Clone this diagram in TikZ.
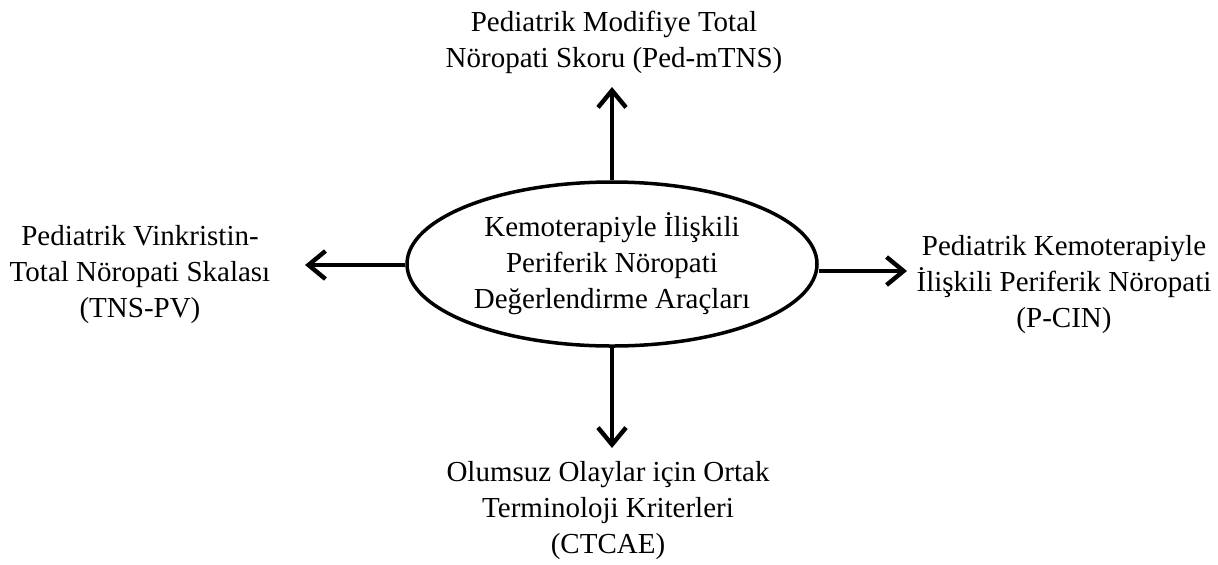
\documentclass[tikz,border=0pt]{standalone}
\usepackage{fontspec}
\setmainfont{Liberation Serif}
\usetikzlibrary{arrows.meta,shapes.geometric}
\begin{document}
\begin{tikzpicture}[x=0.5pt, y=-0.5pt,
        tool text/.style = {align=center, font=\fontsize{14.5}{18}\selectfont, inner sep=0pt},
        out arrow/.style = {line width=2pt, -{Straight Barb[length=8.5pt,width=14pt,line width=2.2pt]}}]
        \useasboundingbox (0,0) rectangle (1218,564);
        \node[ellipse, draw, line width=1.75pt, minimum width=205pt, minimum height=82pt, tool text] (tools) at (612,264) {Kemoterapiyle İlişkili\\Periferik Nöropati\\Değerlendirme Araçları};
        \node[tool text] (mtns) at (614,42) {Pediatrik Modifiye Total\\Nöropati Skoru (Ped-mTNS)};
        \node[tool text] (tnspv) at (140,275) {Pediatrik Vinkristin-\\Total Nöropati Skalası\\(TNS-PV)};
        \node[tool text] (pcin) at (1064,285) {Pediatrik Kemoterapiyle\\İlişkili Periferik Nöropati\\(P-CIN)};
        \node[tool text] (ctcae) at (608,511) {Olumsuz Olaylar için Ortak\\Terminoloji Kriterleri\\(CTCAE)};
        \coordinate (tipT) at (612,87);
        \coordinate (tipB) at (612,448);
        \coordinate (tipL) at (305,265);
        \coordinate (tipR) at (907,271);
        \draw[out arrow] (tools.north) -- (tipT);
        \draw[out arrow] (tools.south) -- (tipB);
        \draw[out arrow] (tools.west |- tipL) -- (tipL);
        \draw[out arrow] (tools.east |- tipR) -- (tipR);
    \end{tikzpicture}
\end{document}
